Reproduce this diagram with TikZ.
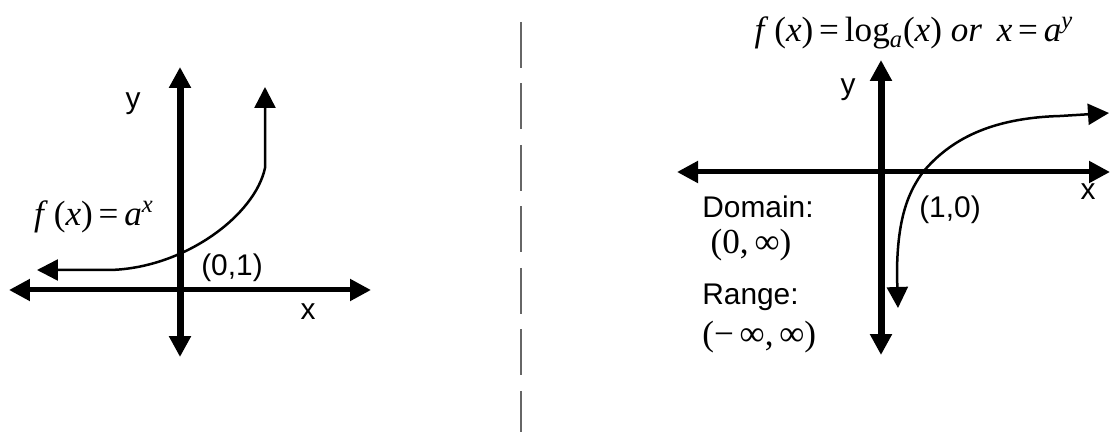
\documentclass[tikz,border=0pt]{standalone}
\usepackage{fontspec}
\setmainfont{Liberation Sans}
\newfontfamily\tms{Liberation Serif}
\usetikzlibrary{arrows.meta}
\tikzset{
  tip/.tip={Triangle[length=0.42cm,width=0.42cm]},
  yaxis/.style={line width=0.14cm,tip-tip},
  xaxis/.style={line width=0.1cm,tip-tip},
  graph/.style={line width=0.05cm,tip-tip},
  lbl/.style={font=\fontsize{17}{20}\selectfont},
  frm/.style={font=\tms\fontsize{20}{24}\selectfont}
}
\begin{document}
\begin{tikzpicture}[x=0.02cm,y=-0.02cm]
\useasboundingbox (0,0) rectangle (1110,432);
% exponential
\coordinate (A) at (180,67);
\coordinate (B) at (180,357);
\coordinate (C) at (9,290);
\coordinate (D) at (371,290);
\draw[yaxis] (B) -- (A);
\draw[xaxis] (C) -- (D);
\coordinate (E) at (37,270);
\coordinate (F) at (265,168);
\coordinate (G) at (265,87);
\draw[graph] (E) -- (110,270) .. controls (185,268) and (255,215) .. (F) -- (G);
\node[lbl] (yE) at (133,104) {y};
\node[lbl] (xE) at (308,312) {x};
\node[lbl] (pE) at (232,268) {(0,1)};
\node[frm] (fE) at (94,217) {\textit{f}\,(\textit{x})\,=\,\textit{a}\textsuperscript{\textit{x}}};
% divider
\draw[line width=0.03cm,color={rgb,1:red,0.4;green,0.4;blue,0.4},dash pattern=on 0.92cm off 0.31cm] (521,22) -- (521,432);
% logarithm
\coordinate (P) at (881,60);
\coordinate (Q) at (881,355);
\coordinate (R) at (677,172);
\coordinate (S) at (1110,172);
\draw[yaxis] (Q) -- (P);
\draw[xaxis] (R) -- (S);
\coordinate (T) at (898,308);
\coordinate (U) at (1109,113);
\draw[graph] (T) -- (897,275) .. controls (897,215) and (910,190) .. (923,172)
  .. controls (950,140) and (990,118) .. (1060,116) -- (U);
\node[frm] (fL) at (914,33) {\textit{f}\,(\textit{x})\,=\,log\textsubscript{\textit{a}}(\textit{x}) \textit{or}\, \textit{x}\,=\,\textit{a}\textsuperscript{\textit{y}}};
\node[lbl] (yL) at (848,90) {y};
\node[lbl] (xL) at (1088,192) {x};
\node[lbl] (pL) at (950,210) {(1,0)};
\node[lbl,anchor=west,inner sep=0pt] (dL) at (702,207) {Domain:};
\node[frm] (dV) at (751,245) {(0,\,∞)};
\node[lbl,anchor=west,inner sep=0pt] (rL) at (702,297) {Range:};
\node[frm,anchor=west,inner sep=0pt] (rV) at (702,337) {(−\,∞,\,∞)};
\end{tikzpicture}
\end{document}
